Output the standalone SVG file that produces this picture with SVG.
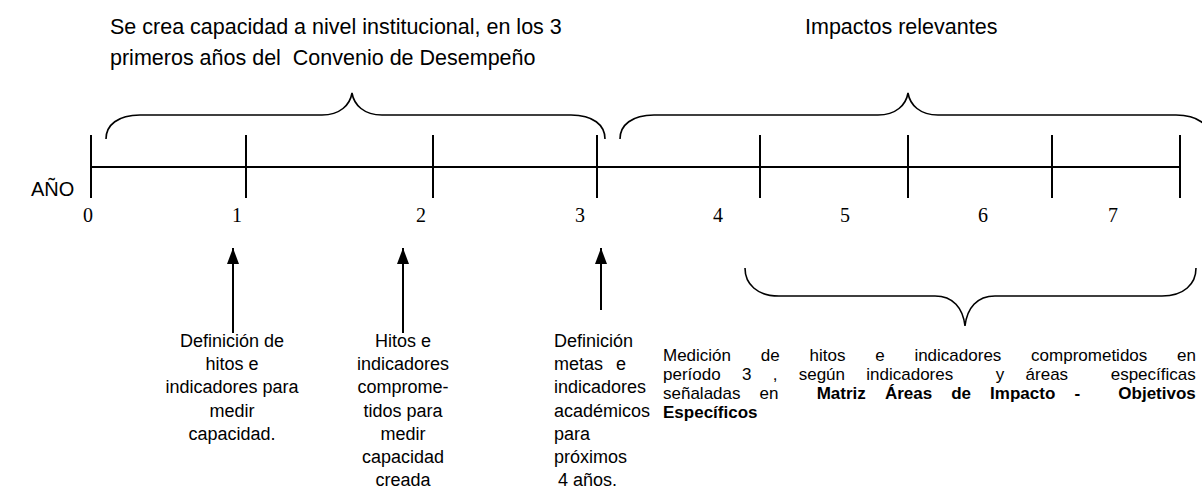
<svg xmlns="http://www.w3.org/2000/svg" width="1202" height="490" viewBox="0 0 1202 490">
<style>
.t{font-family:"Liberation Sans",Arial,sans-serif;fill:#000}
.title{font-size:21.5px}
.body{font-size:18px}
.body4{font-size:17px}
.num{font-family:"Liberation Serif","Times New Roman",serif;font-size:20px;fill:#000;text-anchor:middle}
.ax{stroke:#000;stroke-width:2;fill:none}
.br{stroke:#000;stroke-width:1.6;fill:none}
.b{font-weight:bold}
.c{text-anchor:middle}
</style>
<defs>
<marker id="ah" viewBox="0 0 16 12" refX="16" refY="6" markerWidth="16" markerHeight="12" markerUnits="userSpaceOnUse" orient="auto">
<path d="M0,0 L16,6 L0,12 Z" fill="#000"/>
</marker>
</defs>
<rect width="1202" height="490" fill="#fff"/>

<g id="titles">
<text class="t title" x="110" y="34">Se crea capacidad a nivel institucional, en los 3</text>
<text class="t title" x="110" y="65" xml:space="preserve">primeros años del  Convenio de Desempeño</text>
<text class="t title" x="805" y="34">Impactos relevantes</text>
</g>

<g id="axis">
<text class="t" x="31" y="196" font-size="20">AÑO</text>
<line class="ax" x1="91" y1="167" x2="1180" y2="167"/>
<line class="ax" x1="91" y1="135" x2="91" y2="198"/>
<line class="ax" x1="246" y1="135" x2="246" y2="198"/>
<line class="ax" x1="433" y1="135" x2="433" y2="198"/>
<line class="ax" x1="597" y1="135" x2="597" y2="198"/>
<line class="ax" x1="760" y1="135" x2="760" y2="198"/>
<line class="ax" x1="908" y1="135" x2="908" y2="198"/>
<line class="ax" x1="1052" y1="135" x2="1052" y2="198"/>
<line class="ax" x1="1180" y1="135" x2="1180" y2="198"/>
<text class="num" x="88" y="222">0</text>
<text class="num" x="237" y="222">1</text>
<text class="num" x="421" y="222">2</text>
<text class="num" x="580" y="222">3</text>
<text class="num" x="718" y="222">4</text>
<text class="num" x="845" y="222">5</text>
<text class="num" x="983" y="222">6</text>
<text class="num" x="1113" y="222">7</text>
</g>

<g id="braces">
<path class="br" d="M106,139 C106,125 118,115 140,115 L322,115 C340,115 350,105 352,93 C354,105 364,115 382,115 L571,115 C593,115 605,125 605,139"/>
<path class="br" d="M620,139 C620,125 632,115 654,115 L878,115 C896,115 906,105 908,93 C910,105 920,115 938,115 L1176,115 C1198,115 1210,125 1210,139"/>
<path class="br" d="M745,268 C745,284 757,296 779,296 L935,296 C953,296 963,308 965,326 C967,308 977,296 995,296 L1162,296 C1184,296 1196,284 1196,268"/>
</g>

<g id="connectors">
<line class="ax" x1="233" y1="333" x2="233" y2="248" marker-end="url(#ah)"/>
<line class="ax" x1="403" y1="333" x2="403" y2="248" marker-end="url(#ah)"/>
<line class="ax" x1="601" y1="310" x2="601" y2="248" marker-end="url(#ah)"/>
</g>

<g id="node1">
<text class="t body c" x="232" y="347">Definición de</text>
<text class="t body c" x="232" y="370">hitos e</text>
<text class="t body c" x="232" y="393">indicadores para</text>
<text class="t body c" x="232" y="417">medir</text>
<text class="t body c" x="232" y="440">capacidad.</text>
</g>

<g id="node2">
<text class="t body c" x="403" y="347">Hitos e</text>
<text class="t body c" x="403" y="370">indicadores</text>
<text class="t body c" x="403" y="393">comprome-</text>
<text class="t body c" x="403" y="417">tidos para</text>
<text class="t body c" x="403" y="440">medir</text>
<text class="t body c" x="403" y="463">capacidad</text>
<text class="t body c" x="403" y="486">creada</text>
</g>

<g id="node3">
<text class="t body" x="554" y="347">Definición</text>
<text class="t body" x="554" y="370">metas<tspan x="616">e</tspan></text>
<text class="t body" x="554" y="393">indicadores</text>
<text class="t body" x="554" y="417">académicos</text>
<text class="t body" x="554" y="440">para</text>
<text class="t body" x="554" y="463">próximos</text>
<text class="t body" x="558" y="486">4 años.</text>
</g>

<g id="node4">
<text class="t body4" y="361"><tspan x="663">Medición</tspan><tspan x="760.8">de</tspan><tspan x="809.5">hitos</tspan><tspan x="875.2">e</tspan><tspan x="914.4">indicadores</tspan><tspan x="1031.1">comprometidos</tspan><tspan x="1177.1">en</tspan></text>
<text class="t body4" y="380"><tspan x="663">período</tspan><tspan x="741.9">3</tspan><tspan x="772.7">,</tspan><tspan x="798.7">según</tspan><tspan x="866.3">indicadores</tspan><tspan x="995.8">y</tspan><tspan x="1025.6">áreas</tspan><tspan x="1110.7">específicas</tspan></text>
<text class="t body4" y="399"><tspan x="663">señaladas</tspan><tspan x="759.6">en</tspan><tspan class="b" x="816.7">Matriz</tspan><tspan class="b" x="884.9">Áreas</tspan><tspan class="b" x="951.2">de</tspan><tspan class="b" x="990.1">Impacto</tspan><tspan class="b" x="1074.4">-</tspan><tspan class="b" x="1118.3">Objetivos</tspan></text>
<text class="t body4 b" x="663" y="418">Específicos</text>
</g>
</svg>
